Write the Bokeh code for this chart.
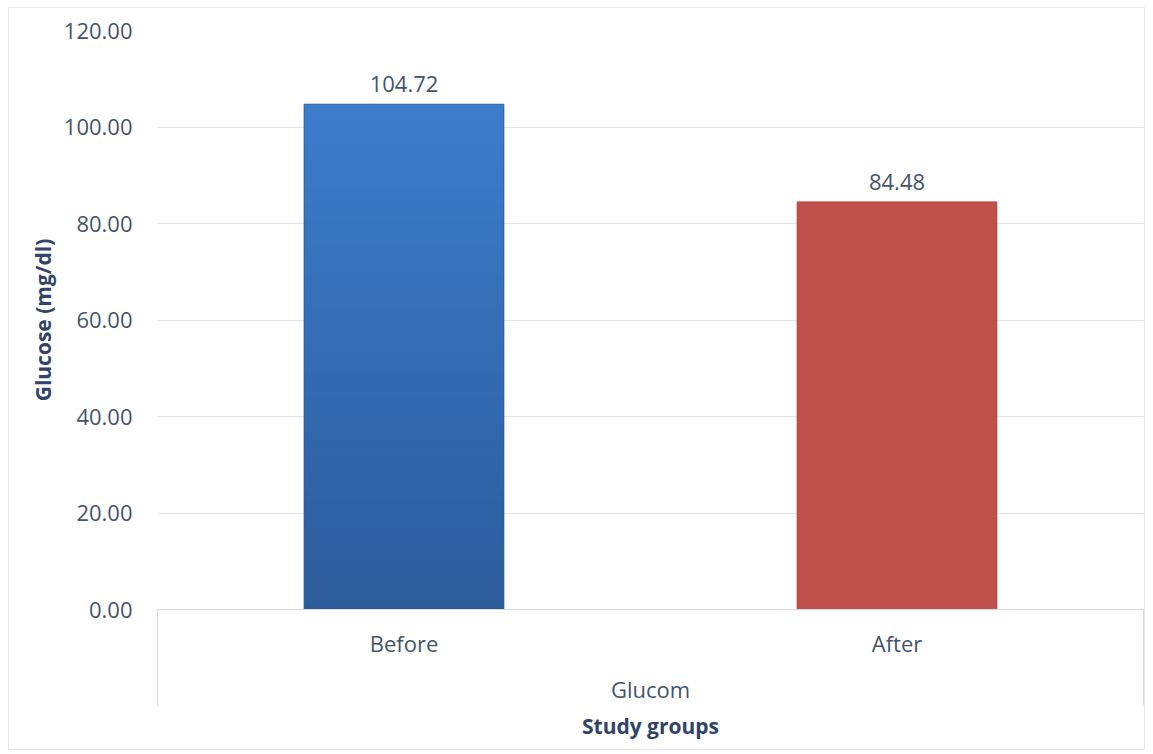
import numpy as np
from bokeh.plotting import figure
from bokeh.models import Range1d, FixedTicker, Title, ColumnDataSource, LabelSet
from bokeh.core.properties import value
from bokeh.embed import file_html
from bokeh.resources import INLINE

# Mean glucose per study group
groups = ["Before", "After"]
glucose = [104.72, 84.48]
group_title = "Glucom"
y_ticks = [0, 20, 40, 60, 80, 100, 120]
y_tick_labels = ["0.00", "20.00", "40.00", "60.00", "80.00", "100.00", "120.00"]

# Bar shading: colour at the top and at the base of each bar
top_colors = ["#3c7dcc", "#c0504d"]
base_colors = ["#2c5b9b", "#c0504d"]
edge_colors = ["#2f5f9e", "#b94a47"]

FONT = "Open Sans"
TEXT = "#44546a"
TITLE_TEXT = "#2f4468"
GRID = "#e3e3e3"
BAR_WIDTH = 0.405

n = len(groups)
xs = [i + 0.5 for i in range(n)]

p = figure(
    width=1137, height=743,
    x_range=Range1d(0, n), y_range=Range1d(y_ticks[0], y_ticks[-1]),
    output_backend="svg", toolbar_location=None,
    min_border_left=148, min_border_right=3, min_border_top=22, min_border_bottom=142,
    margin=(7, 0, 0, 8),
    styles={"border": "1px solid #e6e6e6"},
)
p.outline_line_color = None
p.background_fill_color = "white"
p.border_fill_color = "white"


def hex_to_rgb(h):
    h = h.lstrip("#")
    return np.array([int(h[k:k + 2], 16) for k in (0, 2, 4)], dtype=float)


# Each bar is painted as nested bands, tallest first, blending from base to top colour
STEPS = 150
for x, v, c_top, c_base in zip(xs, glucose, top_colors, base_colors):
    tops = np.linspace(0, v, STEPS + 1)[1:][::-1]
    t = tops / v
    a, b = hex_to_rgb(c_base), hex_to_rgb(c_top)
    cols = ["#%02x%02x%02x" % tuple(int(round(c)) for c in (a + (b - a) * s)) for s in t]
    p.quad(left=x - BAR_WIDTH / 2, right=x + BAR_WIDTH / 2,
           bottom=0, top=tops, fill_color=cols, line_color=None)

src = ColumnDataSource(dict(x=xs, top=glucose, label=[f"{v:.2f}" for v in glucose],
                            edge=edge_colors))
p.vbar(x="x", top="top", width=BAR_WIDTH, source=src,
       fill_color=None, line_color="edge", line_width=1)

p.add_layout(LabelSet(x="x", y="top", text="label", source=src, y_offset=20,
                      text_align="center", text_baseline="middle",
                      text_font=value(FONT), text_font_size="22px", text_color=TEXT))

# Value axis
yax = p.yaxis[0]
yax.ticker = FixedTicker(ticks=y_ticks)
yax.major_label_overrides = dict(zip(y_ticks, y_tick_labels))
yax.axis_line_color = None
yax.major_tick_line_color = None
yax.major_tick_out = 0
yax.major_tick_in = 0
yax.minor_tick_line_color = None
yax.major_label_standoff = 25
yax.major_label_text_font = FONT
yax.major_label_text_font_size = "22px"
yax.major_label_text_color = TEXT
yax.axis_label = "Glucose (mg/dl)"
yax.axis_label_text_font = FONT
yax.axis_label_text_font_size = "21px"
yax.axis_label_text_font_style = "bold"
yax.axis_label_text_color = TITLE_TEXT
yax.axis_label_standoff = 4

p.ygrid.grid_line_color = GRID
p.xgrid.visible = False

# Category axis: labels under each bar, dividers at the group boundaries
xax = p.xaxis[0]
xax.ticker = FixedTicker(ticks=xs, minor_ticks=[0, n])
xax.major_label_overrides = dict(zip(xs, groups))
xax.axis_line_color = "#d9d9d9"
xax.major_tick_line_color = None
xax.major_tick_out = 0
xax.major_tick_in = 0
xax.minor_tick_line_color = "#d9d9d9"
xax.minor_tick_in = 0
xax.minor_tick_out = 96
xax.major_label_standoff = -78
xax.major_label_text_font = FONT
xax.major_label_text_font_size = "22px"
xax.major_label_text_color = TEXT
xax.axis_label = group_title
xax.axis_label_text_font = FONT
xax.axis_label_text_font_size = "22px"
xax.axis_label_text_font_style = "normal"
xax.axis_label_text_color = TEXT
xax.axis_label_standoff = 13

p.add_layout(Title(text="Study groups", align="center", text_font=FONT,
                   text_font_size="21px", text_font_style="bold",
                   text_color=TITLE_TEXT, standoff=7), "below")

open("out.html", "w").write(file_html(p, INLINE))
